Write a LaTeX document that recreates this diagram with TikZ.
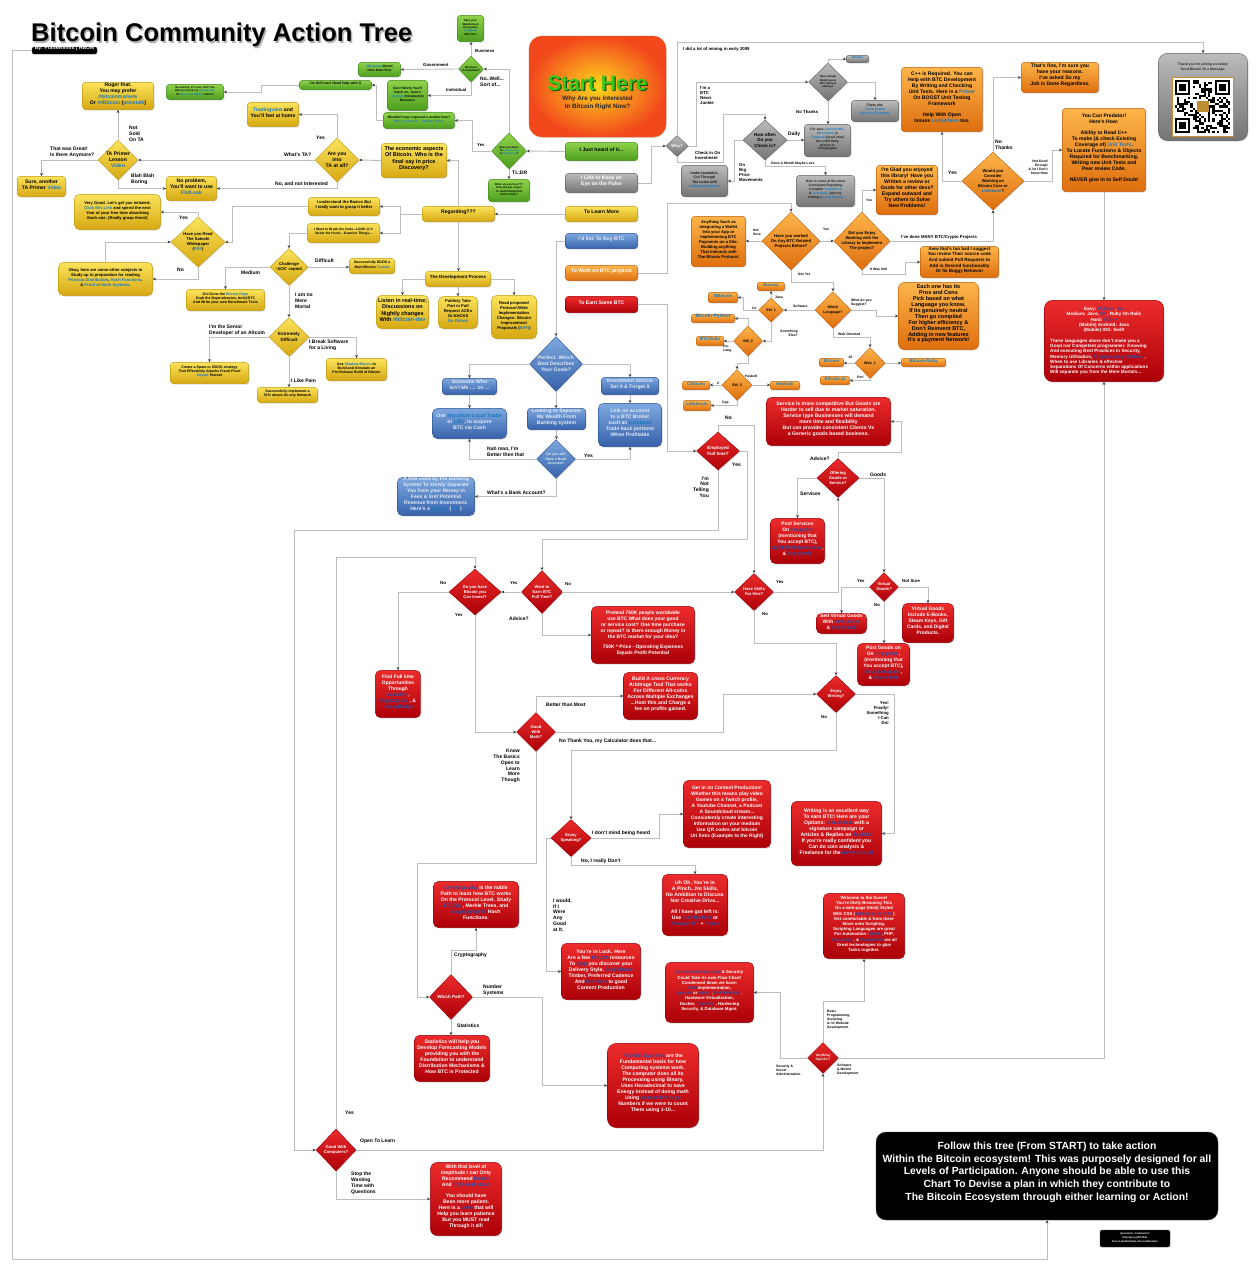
\documentclass[tikz,border=0pt]{standalone}
\usepackage{fontspec}
\setmainfont{Liberation Sans}
\usetikzlibrary{shapes.geometric,arrows.meta,fit,shadows}
\definecolor{ylT}{HTML}{FBE35A}\definecolor{ylB}{HTML}{D6A812}\definecolor{ylD}{HTML}{C29A10}
\definecolor{grT}{HTML}{8FD24A}\definecolor{grB}{HTML}{4E9E20}\definecolor{grD}{HTML}{3F861A}
\definecolor{gyT}{HTML}{BBBBBB}\definecolor{gyB}{HTML}{747474}\definecolor{gyD}{HTML}{5E5E5E}
\definecolor{orT}{HTML}{FDB54A}\definecolor{orB}{HTML}{DE6E0E}\definecolor{orD}{HTML}{C25E0A}
\definecolor{blT}{HTML}{7DA8DE}\definecolor{blB}{HTML}{3762AC}\definecolor{blD}{HTML}{2C5192}
\definecolor{rdT}{HTML}{EC2B2B}\definecolor{rdB}{HTML}{AC0008}\definecolor{rdD}{HTML}{960008}
\definecolor{lnk}{HTML}{1A78BE}\definecolor{lnkr}{HTML}{2B4FA8}
\definecolor{conn}{HTML}{BDBDBD}\definecolor{bltx}{HTML}{E4EAF4}
\definecolor{qrgold}{HTML}{BE8C32}\definecolor{qrfr}{HTML}{CD8C32}
\newcommand\lk[1]{\textcolor{lnk}{#1}}
\newcommand\lr[1]{\textcolor{lnkr}{#1}}
\newcommand\Bx[7]{\node[#2, fit={(#3,#4) (#5,#6)}] (#1) {#7};}
\newcommand\Dm[8]{\node[#2, minimum width=#5pt, minimum height=#6pt] (#1) at (#3,#4) {};\node[#7, align=center, inner sep=0pt] (#1t) at (#1.center) {#8};}
\newcommand\qrfinder[2]{\fill[white] ({#1-2.2},{#2-2.12}) rectangle ++(19.8,19.08);\fill[black] (#1,#2) rectangle ++(15.4,14.84);\fill[white] ({#1+2.2},{#2+2.12}) rectangle ++(11,10.6);\fill[black] ({#1+4.4},{#2+4.24}) rectangle ++(6.6,6.36);}
\pgfdeclarelayer{bg}
\pgfsetlayers{bg,main}
\begin{document}
\begin{tikzpicture}[x=1pt,y=-1pt,
 sh/.style={drop shadow={shadow xshift=0.9pt,shadow yshift=-0.9pt,opacity=0.28}},
 bx/.style={rounded corners=3pt, inner sep=0.6pt, align=center, line width=0.4pt, sh},
 yb/.style={bx, draw=ylD, top color=ylT, bottom color=ylB, text=black},
 gb/.style={bx, draw=grD, top color=grT, bottom color=grB, text=black},
 gyb/.style={bx, draw=gyD, top color=gyT, bottom color=gyB, text=black!90},
 orb/.style={bx, draw=orD, top color=orT, bottom color=orB, text=black},
 blb/.style={bx, draw=blD, top color=blT, bottom color=blB, text=bltx},
 rdb/.style={bx, rounded corners=5pt, draw=rdD, top color=rdT, bottom color=rdB, text=white},
 dm/.style={diamond, inner sep=0pt, line width=0.4pt, sh},
 yd/.style={dm, draw=ylD, top color=ylT, bottom color=ylB},
 gd/.style={dm, draw=grD, top color=grT, bottom color=grB},
 gyd/.style={dm, draw=gyD, top color=gyT, bottom color=gyB},
 ord/.style={dm, draw=orD, top color=orT, bottom color=orB},
 bld/.style={dm, draw=blD, top color=blT, bottom color=blB},
 rdd/.style={dm, draw=rdD, top color=rdT, bottom color=rdB},
 f2/.style={font=\bfseries\fontsize{2.7}{3.3}\selectfont},
 f3/.style={font=\bfseries\fontsize{3.3}{3.9}\selectfont},
 f35/.style={font=\bfseries\fontsize{3.6}{4.3}\selectfont},
 f4/.style={font=\bfseries\fontsize{4.1}{5}\selectfont},
 f43/.style={font=\bfseries\fontsize{4.3}{5.2}\selectfont},
 f45/.style={font=\bfseries\fontsize{4.5}{5.6}\selectfont},
 f49/.style={font=\bfseries\fontsize{4.9}{6}\selectfont},
 f5/.style={font=\bfseries\fontsize{5.1}{6}\selectfont},
 f55/.style={font=\bfseries\fontsize{5.5}{6.6}\selectfont},
 f55t/.style={font=\bfseries\fontsize{5.5}{5.9}\selectfont},
 al/.style={align=left},
 lb/.style={inner sep=0pt, align=left, anchor=west, font=\bfseries\fontsize{5}{5.8}\selectfont},
 lbm/.style={lb, font=\bfseries\fontsize{4.3}{5}\selectfont},
 lbs/.style={lb, font=\bfseries\fontsize{3.4}{4}\selectfont},
 re/.style={anchor=east, align=right},
 cn/.style={draw=conn, line width=0.9pt, -{Stealth[length=3.2pt,width=2.8pt,color=black!80]}},
 blk/.style={fill=black, draw=black!70, rounded corners=8pt, inner sep=0pt, align=center, text=white}
]
\useasboundingbox (0,0) rectangle (1259,1280);
\begin{pgfonlayer}{bg}
\fill[white] (0,0) rectangle (1259,1280);
\end{pgfonlayer}

% ---------- title ----------
\node[anchor=west, inner sep=0pt, font=\bfseries\fontsize{25.6}{30}\selectfont, text=black!30] (titlesh) at (32.4,36.4) {Bitcoin Community Action Tree};
\node[anchor=west, inner sep=0pt, font=\bfseries\fontsize{25.6}{30}\selectfont] (title) at (31,35) {Bitcoin Community Action Tree};
\node[blk, rounded corners=1.5pt, fit={(32,47) (97,54)}, font=\bfseries\fontsize{5}{6}\selectfont] (by) {By: Frankenmint | HBOM};

% ---------- top left yellow ----------
\Bx{roger}{yb,f5}{83}{83}{153}{109}{Roger that.\\You may prefer\\\lk{\#bitcoinmarkets}\\Or \lk{\#\#Bitcoin} (\lk{pricetalk})}
\Dm{tap}{yd}{118}{160}{40}{40}{f5}{TA Primer\\Lesson\\\lk{Video}}
\Bx{sure}{yb,f5}{18}{177}{65}{196}{Sure, another\\TA Primer \lk{Video}}
\Bx{noprob}{yb,f5}{167}{177}{216}{200}{No problem,\\You'll want to use\\\lk{FlatLeak}}
\Dm{areta}{yd}{337}{160}{44}{44}{f5}{Are you\\into\\TA at all?}
\Bx{tview}{yb,f5}{248}{103}{298}{126}{\lk{Tradingview} and\\You'll feel at home}
\Bx{econ}{yb,f55,al}{382}{144}{446}{177}{The economic aspects\\Of Bitcoin. Who is the\\final say in price\\Discovery?}

% ---------- green ----------
\Bx{wf}{gb,f2,al}{458}{16}{483}{41}{Have your\\Workforce \&\\Ecosystem\\\lk{Budgeted}\\With This}
\Dm{biz}{gd}{471}{69}{25}{26}{f2}{Business\\Or Individual?}
\Bx{wiki}{gb,f3}{359}{63}{400}{76}{\lk{Wikipedia} Would\\have been Fine}
\Bx{dontw}{gb,f3,al}{388}{81}{427}{110}{Don't Worry You'll\\Catch on.. here's\\\lk{Another} Introductory\\Resource}
\Bx{wouldnt}{gb,f3,al}{384}{113}{454}{128}{Wouldn't have expected a newbie here?\\\lk{What is Bitcoin -- Youtube Video}}
\Bx{still}{gb,f35}{300}{81}{371}{89}{I'm Still lost! Need help with X}
\Bx{noworr}{gb,f2,al}{167}{85}{223}{99}{No worries, it's cool, chill!  You\\Want to check out  \lk{\#altcoin-IRC}\\Or \lk{bitcoinCore/Slack} channel}
\Dm{hyb}{gd}{509}{151}{35}{36}{f2}{Have you been\\To \lk{bitcoin.com}\\\& \lk{bitcoin.org}?}
\Bx{five}{gb,f2,al}{489}{180}{529}{201}{What are you Five???\\How did you expect\\To read through this\\Action Chart?}

% ---------- start ----------
\node[fit={(529,36) (666,137)}, inner sep=0pt, rounded corners=13pt, inner color={rgb,255:red,255;green,214;blue,30}, outer color={rgb,255:red,242;green,72;blue,28}, draw={rgb,255:red,225;green,85;blue,30}, sh] (start) {};
\node[inner sep=0pt, font=\bfseries\fontsize{21}{24}\selectfont, text={rgb,255:red,25;green,80;blue,10}] (startsh) at (598.7,84.2) {Start Here};
\node[inner sep=0pt, font=\bfseries\fontsize{21}{24}\selectfont, text={rgb,255:red,58;green,200;blue,25}] (starttx) at (597.5,83) {Start Here};
\node[inner sep=0pt, align=center, font=\bfseries\fontsize{6.3}{8}\selectfont, text=black!85] (startsub) at (597.5,103) {Why Are you Interested\\In Bitcoin Right Now?};
\Bx{heard}{gb,f5}{566}{143}{637}{160}{I Just heard of it...}
\Bx{pulse}{gyb,f5,text=white}{566}{174}{637}{192}{I Like to Keep an\\Eye on the Pulse}
\Bx{learn}{yb,f5}{566}{207}{637}{221}{To Learn More}
\Bx{buy}{blb,f5}{566}{234}{637}{248}{I'd like To Buy BTC}
\Bx{work}{orb,f5,text=white}{566}{266}{637}{280}{To Work on BTC projects}
\Bx{earn}{rdb,rounded corners=3pt,f5}{566}{297}{637}{312}{To Earn Some BTC}
\Bx{regard}{yb,f5}{423}{207}{494}{221}{Regarding???}

% ---------- gray ----------
\Dm{why}{gyd}{677}{146}{22}{21}{f4,text=white}{Why?}
\Dm{brk}{gyd}{828}{82}{39}{38}{f2}{Take a Break\\Brush up on\\BTC Facts \&\\History?}
\Bx{hist}{gyb,rounded corners=1.5pt,f3}{847}{56}{868}{62}{\lk{History}}
\Bx{facts}{gyb,f35}{852}{101}{898}{121}{Facts via:\\\lk{Trivia Game}\\\lk{Bitcoin Glossary}}
\Dm{often}{gyd}{765}{140}{44}{40}{f45}{How often\\Do you\\Check in?}
\Bx{forsure}{gyb,f3}{805}{125}{850}{156}{For sure...\lk{bitcoin-IRC},\\\lk{Bitcointalk}, \&\\\lk{Telegram} (local chat)\\Are solid Daily\\places to\\Congregate}
\Bx{underst}{gyb,f35,al}{682}{166}{727}{196}{Understandable.\\Cut Through\\The noise with\\\lk{bitfinexwhalealert}}
\Bx{hereis}{gyb,f3,al}{797}{176}{854}{206}{Here is some of the most\\Consistent Reporting\\Consider \lk{Tradeblock}\\\& \lk{Coindesk}.  Also try\\Joining a \lk{Local Meetup}}

% ---------- orange top ----------
\Bx{cpp}{orb,f5}{902}{68}{982}{131}{C++ is Required. You can\\Help with BTC Development\\By Writing and Checking\\Unit Tests.  Here is a \lk{Primer}\\On BOOST Unit Testing\\Framework\\[5pt]Help With Open\\Issues \lk{Listed here} too.}
\Dm{would}{ord}{993}{181}{62}{58}{f4}{Would you\\Consider\\Working on\\Bitcoin Core or\\\lk{Libbitcoin}?}
\Bx{fine}{orb,f5}{1022}{63}{1098}{92}{That's fine, I'm sure you\\have your reasons.\\I've asked So my\\Job is Done Regardless.}
\Bx{pred}{orb,f5}{1063}{109}{1145}{191}{You Can Predator!\\Here's How:\\[5pt]Ability to Read C++\\To make (\& check Existing\\Coverage of) \lk{Unit Tests}.\\To Locate Functions \& Objects\\Required for Benchmarking,\\Writing new Unit Tests and\\Peer review Code.\\[5pt]NEVER give in to Self Doubt}
\node[gyb, rounded corners=9pt, fit={(1159,54) (1247,140)}] (qr) {};
\node[inner sep=0pt, align=center, font=\bfseries\fontsize{3.4}{4.4}\selectfont, text=black!85] (qrtx) at (1203,67) {Thank you for joining us today!\\Send Bitcoin Or a  Message:};
\filldraw[fill=white, draw=qrfr, line width=1pt] (1172,77) rectangle (1233,136);
\pgfmathsetseed{42}
\foreach \i in {0,...,24}{\foreach \j in {0,...,24}{\pgfmathtruncatemacro\qrv{rnd<0.48?1:0}\ifnum\qrv=1 \fill[black] ({1175+\i*2.2},{80+\j*2.12}) rectangle ++(2.2,2.12);\fi}}
\qrfinder{1175}{80}\qrfinder{1214.6}{80}\qrfinder{1175}{118.16}
\fill[qrgold] (1197,101) rectangle (1209,112);
\Dm{hw}{ord}{791}{241}{58}{58}{f4}{Have you worked\\On Any BTC Related\\Projects Before?}
\Bx{anyth}{orb,f4}{692}{217}{745}{266}{Anything Such as\\Integrating a Wallet\\Into your App or\\Implementing BTC\\Payments on a Site.\\Building anything\\That interacts with\\The Bitcoin Protocol.}
\Dm{enjoy}{ord}{862}{241}{56}{58}{f4}{Did you Enjoy\\Working with the\\Library to Implement\\The project?}
\Bx{glad}{orb,f5}{877}{166}{937}{214}{I'm Glad you enjoyed\\this library! Have you\\Written a review or\\Guide for other devs?\\Expand outward and\\Try others to Solve\\New Problems!}
\Bx{aww}{orb,f45}{921}{247}{998}{277}{Aww that's too bad I suggest\\You review Their source code\\And submit Pull Requests to\\Add in Desired functionality\\Or fix Buggy Behavior}

% ---------- languages ----------
\Dm{wl}{ord}{833}{310}{36}{37}{f35}{Which\\Language?}
\Dm{sw1}{ord}{771}{310}{25}{24}{f35}{SW\_1}
\Bx{bj}{orb,rounded corners=1.5pt,f4}{758}{283}{784}{290}{\lk{Bitcoinj}}
\Bx{nbit}{orb,rounded corners=1.5pt,f45}{709}{293}{737}{302}{\lk{NBitcoin}}
\Dm{sw2}{ord}{748}{341}{29}{30}{f35}{SW\_2}
\Bx{bpy}{orb,rounded corners=1.5pt,f49}{692}{315}{734}{322}{\lk{Bitcoin-Python}}
\Bx{btcs}{orb,rounded corners=1.5pt,f45}{697}{337}{723}{345}{\lk{BTCSuite}}
\Dm{sw3}{ord}{737}{385}{30}{31}{f35}{SW\_3}
\Bx{hask}{orb,rounded corners=1.5pt,f45}{771}{382}{799}{389}{\lk{Haskoin}}
\Bx{cbit}{orb,rounded corners=1.5pt,f45}{683}{382}{709}{389}{\lk{Cbitcoin}}
\Bx{libb}{orb,rounded corners=1.5pt,f45}{684}{401}{710}{410}{\lk{Libbitcoin}}
\Bx{each}{orb,rounded corners=6pt,f55t}{899}{283}{978}{349}{Each one has its\\Pros and Cons\\Pick based on what\\Language you know.\\If its genuinely neutral\\Then go compiled\\For higher efficiency \&\\Don't Reinvent BTC,\\Adding in new features\\It's a payment Network!}
\Dm{web1}{ord}{870}{363}{30}{31}{f35}{Web\_1}
\Bx{bcore}{orb,rounded corners=1.5pt,f45}{820}{359}{843}{366}{\lk{Bitcore}}
\Bx{bruby}{orb,rounded corners=1.5pt,f45}{902}{359}{945}{366}{\lk{Bitcoin-Ruby}}
\Bx{bpl}{orb,rounded corners=1.5pt,f45}{821}{377}{849}{384}{\lk{Bitcoin-pl}}

% ---------- red right ----------
\node[rdb, rounded corners=8pt, fit={(1045,301) (1163,381)}] (easy) {};
\node[inner sep=0pt, align=center, text=white, font=\bfseries\fontsize{4.6}{5.2}\selectfont] (easyA) at (1104,320) {Easy: \lr{Python} , \lr{Go}\\Medium: Java, \lr{C\#} , Ruby On Rails\\Hard: \lr{C/C++}\\(Mobile) Android: Java\\(Mobile) IOS: Swift};
\node[inner sep=0pt, align=left, anchor=west, text=white, font=\bfseries\fontsize{4.6}{5.2}\selectfont] (easyB) at (1050,357) {These languages alone don't make you a\\Good nor Competent programmer.  Knowing\\And executing Best Practices in Security,\\Memory Utilization, \lr{Programming Patterns} ,\\When to use Libraries \& effective\\Separations Of Concerns within applications\\Will separate you from the Mere Mortals...};
\Bx{serv}{rdb,f5}{767}{398}{890}{445}{Service is more competitive But Goods are\\Harder to sell due to market saturation.\\Service type Businesses will demand\\more time and flexibility\\But can provide consistent Clients Vs\\a Generic goods based business.}
\Dm{empl}{rdd}{718}{451}{43}{38}{f45,text=white}{Employed\\Full time?}
\Dm{offer}{rdd}{838}{478}{42}{39}{f4,text=white}{Offering\\Goods or\\Service?}
\Bx{posts}{rdb,f49,al}{771}{519}{824}{563}{Post Services\\On \lr{Craigslist}\\(mentioning that\\You accept BTC),\\\lr{cryptothebitcoin.com} ,\\\& \lr{Bitcointalk}}
\Dm{skills}{rdd}{754}{592}{39}{37}{f4,text=white}{Have Skills\\For Hire?}
\Dm{vgd}{rdd}{884}{587}{29}{29}{f4,text=white}{Virtual\\Goods?}
\Bx{sellv}{rdb,f49,al}{817}{614}{866}{633}{Sell Virtual Goods\\With \lr{Sell-bitBox}\\\& \lr{Bitcointalk}}
\Bx{vginc}{rdb,f49,al}{903}{604}{953}{642}{Virtual Goods\\Include E-Books,\\Steam Keys, Gift\\Cards, and Digital\\Products.}
\Bx{postg}{rdb,f49,al}{858}{644}{909}{685}{Post Goods on\\On \lr{Craigslist} ,\\(mentioning that\\You accept BTC),\\\lr{bitcoinshop.us} ,\\\& \lr{Bitcointalk}}
\Dm{ewrite}{rdd}{836}{694}{39}{37}{f4,text=white}{Enjoy\\Writing?}
\Bx{writing}{rdb,f5}{792}{802}{881}{865}{Writing is an excellent way\\To earn BTC! Here are your\\Options: \lr{Bitcointalk} with a\\signature campaign or\\Articles \& Replies on \lr{Topicbit}\\If you're really confident you\\Can do coin analysis \&\\Freelance for the \lr{News-Circuit}}

% ---------- red middle ----------
\Dm{dyh}{rdd}{475}{592}{52}{46}{f4,text=white}{Do you have\\Bitcoin you\\Can invest?}
\Dm{wte}{rdd}{542}{592}{41}{43}{f4,text=white}{Want to\\Earn BTC\\Full Time?}
\Bx{pret}{rdb,f49}{592}{607}{694}{663}{Pretend 750K people worldwide\\use BTC What does your good\\or service cost? One time purchase\\or repeat? Is there enough Money in\\the BTC market for your idea?\\[4pt]750K * Price - Operating Expenses\\Equals Profit Potential}
\Bx{findft}{rdb,f49,al}{376}{671}{420}{717}{Find Full time\\Opportunities\\Through\\\lr{Coinality} ,\\\lr{Cryptogrind} , \&\\\lr{HoneyBadge}}
\Dm{gwm}{rdd}{536}{732}{39}{39}{f4,text=white}{Good\\With\\Math?}
\Bx{build}{rdb,f5,al}{624}{673}{697}{719}{Build A cross Currency\\Arbitrage Tool That works\\For Different Alt-coins\\Across Multiple Exchanges\\...Host this and Charge a\\fee on profits gained.}
\Dm{espeak}{rdd}{571}{838}{40}{37}{f4,text=white}{Enjoy\\Speaking?}
\Bx{content}{rdb,f49,al}{684}{781}{770}{847}{Get in on Content Production!\\Whether this means play video\\Games on a Twitch profile,\\A Youtube Channel, a Podcast\\A Soundcloud stream...\\Consistently create interesting\\Information on your medium\\Use QR codes and bitcoin\\Uri links (Example to the Right)}
\Bx{uhoh}{rdb,f5,al}{663}{875}{727}{935}{Uh Oh, You're in\\A Pinch...No Skills,\\No Ambition to Discuss\\Nor Creative Drive...\\[5pt]All I have got left is:\\Use \lr{CoinBuilder} or\\\lr{Amazon MT} + \lr{Purse}}
\Bx{luck}{rdb,f5,al}{562}{944}{640}{999}{You're in Luck.  Here\\Are a few \lr{Bitcoin} resources\\To \lr{help} you discover your\\Delivery Style, \lr{Confidence}\\Timber, Preferred Cadence\\And \lr{Methods} to good\\Content Production}
\Dm{wpath}{rdd}{451}{997}{43}{45}{f45,text=white}{Which Path?}
\Bx{crypto}{rdb,f5,al}{434}{882}{518}{927}{\lr{Cryptography} is the noble\\Path to learn how BTC works\\On the Protocol Level.  Study\\\lr{ECDSA} , Merkle Trees, and\\\lr{Cryptographic} Hash\\Functions.}
\Bx{stats}{rdb,f5,al}{415}{1036}{489}{1081}{Statistics will help you\\Develop Forecasting Models\\providing you with the\\Foundation to understand\\Distribution Mechanisms \&\\How BTC is Protected}
\Bx{numsys}{rdb,rounded corners=9pt,f5,al}{608}{1044}{698}{1127}{\lr{Number Systems} are the\\Fundamental basis for how\\Computing systems work.\\The computer does all its\\Processing using Binary,\\Uses Hexadecimal to save\\Energy instead of doing math\\Using \lr{impossibly large}\\Numbers if we were to count\\Them using 1-10...}
\Dm{anyspec}{rdd}{823}{1058}{31}{31}{f3,text=white}{Anything\\Specific?}
\Bx{server}{rdb,f43,al}{666}{963}{753}{1022}{\lr{Server Administration} \& Security\\Could Take its own  Flow Chart!\\Condensed down we have:\\\lr{SSH} implementation,\\\lr{Apache} or \lr{Nginx} , \lr{PHP Hosting} ,\\Hardware Virtualization,\\Docker, \lr{Tigervnc} , Hardening\\Security, \& Database Mgmt.}
\Bx{welcome}{rdb,f43,al}{824}{894}{904}{958}{Welcome to the Scene!\\You're likely Browsing This\\On a web-page (html) Styled\\With CSS ( \lr{Get Down as CSS} )\\Get comfortable \& from there\\Move onto Scripting.\\Scripting Languages are great\\For Automation - \lr{Bash} , PHP,\\\lr{Javascript} , \& \lr{Powershell} are all\\Great technologies to glue\\Tasks together.}
\Dm{gwc}{rdd}{336}{1150}{40}{42}{f4,text=white}{Good With\\Computers?}
\Bx{inept}{rdb,rounded corners=7pt,f5,al}{431}{1163}{501}{1235}{With that level of\\Ineptitude I can Only\\Recommend \lr{Reddit}\\And \lr{Coinmarketcap}\\[5pt]You should have\\Been more patient.\\Here is a \lr{Joke} that will\\Help you learn patience\\But you MUST read\\Through it all!}
\node[blk, rounded corners=10pt, fit={(876,1132) (1218,1220)}, font=\bfseries\fontsize{10.4}{12.7}\selectfont] (blackbox) {Follow this tree (From START) to take action\\Within the Bitcoin ecosystem!  This was purposely designed for all\\Levels of Participation.  Anyone should be able to use this\\Chart To Devise a plan in which they contribute to\\The Bitcoin Ecosystem through either learning or Action!};
\node[blk, rounded corners=2pt, fit={(1100,1230) (1170,1247)}, font=\bfseries\fontsize{2.6}{3.6}\selectfont] (qbox) {Questions, Comments?\\http://goo.gl/8CtZde\\Free to Redistribute w/o modification};

% ---------- blue ----------
\Dm{perfect}{bld}{556}{364}{53}{55}{f5,text=bltx}{Perfect. Which\\Best Describes\\Your Goals?}
\Bx{someone}{blb,f5,al}{443}{379}{496}{394}{Someone Who\\Isn't Me .... on ...}
\Bx{myc}{blb,rounded corners=5pt,f5,al}{433}{409}{506}{438}{Use \lk{Mycelium Local Trader}\\or \lk{LBC},  to acquire\\BTC via Cash}
\Bx{looking}{blb,f5,al}{528}{409}{585}{429}{Looking to Separate\\My Wealth From\\Banking system}
\Dm{dys}{bld}{556}{459}{39}{39}{f35,text=bltx}{Do you still\\Have a Bank\\Account?}
\Bx{invest}{blb,f5,al}{602}{378}{658}{394}{Investment Vehicle\\Set it \& Forget it}
\Bx{linkacc}{blb,rounded corners=5pt,f5,al}{599}{404}{661}{446}{Link an account\\to a BTC Broker\\such as \lk{Coinbase}\\Trade back portions\\When Profitable}
\Bx{tool}{blb,rounded corners=5pt,f5,al}{398}{478}{474}{515}{A tool used by the Banking\\System To slowly Separate\\You from your Money in\\Fees \& lost Potential\\Revenue from Investment.\\Here's a \lk{(video)} (\lk{link})}

% ---------- yellow middle ----------
\Bx{verygood}{yb,rounded corners=5pt,f4,al}{75}{195}{160}{229}{Very Good.  Let's get you initiated.\\\lk{Click this Link} and spend the next\\Year of your free time absorbing\\Each one. (Really grasp them!)}
\Dm{hyr}{yd}{198}{242}{54}{50}{f4}{Have you Read\\The Satoshi\\Whitepaper\\(\lk{PDF})}
\Bx{okay}{yb,rounded corners=5pt,f4,al}{59}{263}{152}{295}{Okay, here are some other subjects to\\Study up in preparation for reading\\\lk{Poisson Distribution}, \lk{Hash Functions},\\\& \lk{Proof of Work Systems}.}
\Bx{iund}{yb,f4,al}{309}{198}{379}{215}{I understand the Basics But\\I really want to grasp it better}
\Bx{ibreak}{yb,f3,al}{308}{224}{379}{242}{I Want to Break the Code...LOOK @ It\\Under the Hood... Examine Things...}
\Dm{chal}{yd}{289}{267}{38}{37}{f4}{Challenge\\`ACK' cepted}
\Bx{ddos}{yb,f35,al}{350}{259}{394}{273}{Successfully DDOS a\\Main Bitcoin \lk{Testnet}}
\Bx{git}{yb,f35,al}{187}{290}{264}{310}{Git Clone the \lk{Bitcoin Repo}\\Grab the Dependencies, build BTC\\And Write your own Benchmark Tests}
\Dm{ext}{yd}{289}{337}{40}{39}{f45}{Extremely\\Difficult}
\Bx{create}{yb,f35,al}{171}{363}{248}{383}{Create a Spam or DDOS strategy\\That Effectively Attacks Fraud Proof\\\lk{Segwit} Testnet}
\Bx{shadow}{yb,f35,al}{327}{359}{386}{380}{Use \lk{Shadow-Bitcoin} to\\Build and Simulate an\\Pre-Release Build of Bitcoin}
\Bx{fifty}{yb,f35,al}{258}{388}{317}{402}{Successfully Implement a\\51\% attack On any Network}
\Bx{dev}{yb,f45}{426}{272}{490}{286}{The Development Process}
\Bx{listen}{yb,rounded corners=5pt,f55,al}{377}{296}{428}{328}{Listen in real-time;\\Discussions on\\Nightly changes\\With \lk{\#bitcoin-dev}}
\Bx{publicly}{yb,rounded corners=5pt,f4,al}{439}{297}{477}{328}{Publicly Take\\Part in Pull\\Request ACKs\\Or NACKS\\\lk{On Github}}
\Bx{readp}{yb,rounded corners=5pt,f4,al}{492}{296}{536}{338}{Read proposed\\Protocol-Wide\\Implementation\\Changes: Bitcoin\\Improvement\\Proposals (\lk{BIPS})}

% ---------- labels ----------
\node[lb] (L1) at (129,134) {Not\\Sold\\On TA};
\node[lb] (L2) at (50,152) {That was Great!\\Is there Anymore?};
\node[lb] (L3) at (131,179.5) {Blah Blah\\Boring};
\node[lb] (L4) at (284,155) {What's TA?};
\node[lb] (L5) at (316,138) {Yes};
\node[lb] (L6) at (275,184) {No, and not Interested};
\node[lbm] (L7) at (475,51) {Business};
\node[lbm] (L8) at (423,65) {Government};
\node[lbm] (L9) at (446,90) {Individual};
\node[lb] (L10) at (480,82) {No..Well...\\Sort of...};
\node[lbm] (L11) at (477,145) {Yes};
\node[lb] (L12) at (512,173) {TL;DR};
\node[lbm] (L13) at (683,49) {I did a lot of mining in early 2009};
\node[lbm] (L14) at (700,95.5) {I'm a\\BTC\\News\\Junkie};
\node[lbm] (L15) at (796,112) {No Thanks};
\node[lbm] (L16) at (695,155.5) {Check in On\\Investment};
\node[lb] (L17) at (788,134) {Daily};
\node[lbm] (L18) at (739,172.5) {On\\Big\\Price\\Movements};
\node[lbs] (L19) at (771,164) {Once A Month Maybe Less};
\node[lb] (L20) at (948,173) {Yes};
\node[lb] (L21) at (995,145) {No\\Thanks};
\node[lbs,re] (L22) at (1048,167) {Not Good\\Enough\\\& /or I Don't\\know How};
\node[lbs] (L23) at (753,232) {Not\\Sure};
\node[lbs] (L24) at (823,229) {Yes};
\node[lbs] (L25) at (866,200) {Yes};
\node[lbm] (L26) at (901,237) {I've done MANY BTC/Crypto Projects};
\node[lbs] (L27) at (870,269) {It Was Hell};
\node[lbs] (L28) at (798,274) {Not Yet};
\node[lbs] (L29) at (775,297) {Java};
\node[lbs] (L30) at (752,308) {C\#};
\node[lbs] (L31) at (793,306) {Software};
\node[lbs,re] (L32) at (798,333) {Something\\Else?};
\node[lbs] (L33) at (723,349) {Go-\\Lang};
\node[lbs] (L34) at (745,376) {Haskell};
\node[lbs] (L35) at (717,383) {C};
\node[lbs] (L36) at (722,403) {Cpp};
\node[lbs] (L37) at (851,303) {What do you\\Suggest?};
\node[lbs] (L38) at (838,334) {Web Oriented};
\node[lbs] (L39) at (848,357) {JS};
\node[lbs] (L40) at (857,377) {Perl};
\node[lb] (L41) at (725,418) {No};
\node[lb] (L42) at (732,465) {Yes};
\node[lb,re] (L43) at (709,487) {I'm\\Not\\Telling\\You};
\node[lb] (L44) at (810,459) {Advice?};
\node[lb] (L45) at (870,475) {Goods};
\node[lb] (L46) at (800,494) {Services};
\node[lbm] (L47) at (776,582) {Yes};
\node[lbm] (L48) at (762,614) {No};
\node[lbm] (L49) at (857,581) {Yes};
\node[lbm] (L50) at (902,581) {Not Sure};
\node[lbm] (L51) at (874,605) {No};
\node[lbm] (L52) at (821,717) {No};
\node[lbm,re] (L53) at (889,713) {Yes!\\Finally!\\Something\\I Can\\Do!};
\node[lbm] (L54) at (440,583) {No};
\node[lbm] (L55) at (510,583) {Yes};
\node[lbm] (L56) at (565,584) {No};
\node[lbm] (L57) at (455,615) {Yes};
\node[lb] (L58) at (509,619) {Advice?};
\node[lb] (L59) at (546,705) {Better than Most};
\node[lb] (L60) at (559,741) {No Thank You, my  Calculator does that...};
\node[lb,re] (L61) at (520,766) {Know\\The Basics\\Open to\\Learn\\More\\Though};
\node[lb] (L62) at (592,833) {I don't mind being heard};
\node[lb] (L63) at (581,861) {No, I really Don't};
\node[lb] (L64) at (553,915) {I would,\\If I\\Were\\Any\\Good\\at It.};
\node[lb] (L65) at (454,955) {Cryptography};
\node[lb] (L66) at (483,990) {Number\\Systems};
\node[lb] (L67) at (457,1026) {Statistics};
\node[lbs] (L68) at (776,1070) {Security \&\\Server\\Administration.};
\node[lbs] (L69) at (827,1019.5) {Basic\\Programming,\\Scripting,\\\& /or Website\\Development};
\node[lbs] (L70) at (837,1070) {Software\\\& Mobile\\Development};
\node[lb] (L71) at (345,1113) {Yes};
\node[lb] (L72) at (360,1141) {Open To Learn};
\node[lb] (L73) at (351,1183) {Stop the\\Wasting\\Time with\\Questions};
\node[lb] (L74) at (179,218) {Yes};
\node[lb] (L75) at (177,270) {No};
\node[lb] (L76) at (315,261) {Difficult};
\node[lb] (L77) at (241,273) {Medium};
\node[lb] (L78) at (295,301) {I am no\\Mere\\Mortal};
\node[lb] (L79) at (209,330) {I'm the Senior\\Developer of an Altcoin};
\node[lb] (L80) at (309,345) {I Break Software\\for a Living};
\node[lb] (L81) at (291,381) {I Like Pain};
\node[lb] (L82) at (487,452) {Nah man, I'm\\Better then that};
\node[lb] (L83) at (584,456) {Yes};
\node[lb] (L84) at (487,493) {What's a Bank Account?};

% ---------- connectors ----------
\begin{pgfonlayer}{bg}
\draw[cn] (by.west) -| (12,1259) -| (blackbox.south);
\draw[cn] (tap.north) -- (tap.north |- roger.south);
\draw[cn] (tap.west) -| (sure.north);
\draw[cn] (tap.south) |- (noprob.west);
\draw[cn] (areta.west) -- (tap.east);
\draw[cn] (areta.north) |- (tview.east);
\draw[cn] (areta.south) |- (noprob.east);
\draw[cn] (econ.west) -- (areta.east);
\draw[cn] (regard.north) |- (econ.east);
\draw[cn] (biz.north) -- (biz.north |- wf.south);
\draw[cn] (biz.west) -- (wiki.east);
\draw[cn] (biz.south) |- (dontw.east);
\draw[cn] (hyb.north) |- (biz.east);
\draw[cn] (hyb.west) -- ++(-19,0) |- (wouldnt.east);
\draw[cn] (wouldnt.west) -- ++(-7,0) |- (still.east);
\draw[cn] (still.west) -- ++(-38,0) |- (noworr.east);
\draw[cn] (hyb.south) -- (hyb.south |- five.north);
\draw[cn] (heard.west) -- (hyb.east);
\draw[cn] (pulse.east) -- ++(14,0) |- (why.west);
\draw[cn] (learn.west) -- (regard.east);
\draw[cn] (why.north) -- ++(0,-93) -| (qr.north);
\draw[cn] (why.east) -- ++(8,0) |- (brk.west);
\draw[cn] (brk.north) |- (hist.west);
\draw[cn] (brk.east) -| (facts.north);
\draw[cn] (brk.south) -- (brk.south |- forsure.north);
\draw[cn] (why.south) |- (723,162) |- (765,114) -- (often.north);
\draw[cn] (often.east) -- (often.east -| forsure.west);
\draw[cn] (often.west) -- ++(-8,0) |- (underst.east);
\draw[cn] (often.south) -- ++(0,6) -| (hereis.north);
\draw[cn] (would.west) -| (cpp.south);
\draw[cn] (would.north) |- (fine.west);
\draw[cn] (would.east) -- ++(28,0) |- (pred.west);
\draw[cn] (pred.south) -- (pred.south |- easy.north);
\draw[cn] (work.east) -- ++(30,0) |- (791,203) -- (hw.north);
\draw[cn] (hw.west) -- (hw.west -| anyth.east);
\draw[cn] (hw.east) -- (enjoy.west);
\draw[cn] (enjoy.north) |- (glad.west);
\draw[cn] (enjoy.east) -| (would.south);
\draw[cn] (enjoy.south) |- (905,274) |- (aww.west);
\draw[cn] (hw.south) -- ++(0,12) -| (wl.north);
\draw[cn] (wl.west) -- (sw1.east);
\draw[cn] (sw1.north) -- (sw1.north |- bj.south);
\draw[cn] (sw1.west) -- ++(-15,0) |- (nbit.east);
\draw[cn] (sw1.south) |- (sw2.east);
\draw[cn] (sw2.north) |- (bpy.east);
\draw[cn] (sw2.west) -- (sw2.west -| btcs.east);
\draw[cn] (sw2.south) -- ++(0,7) -| (sw3.north);
\draw[cn] (sw3.east) -- (sw3.east -| hask.west);
\draw[cn] (sw3.west) -- (sw3.west -| cbit.east);
\draw[cn] (sw3.south) |- (libb.east);
\draw[cn] (wl.east) -- ++(25,0) |- (each.west);
\draw[cn] (wl.south) -- ++(0,9) -| (web1.north);
\draw[cn] (web1.west) -- (web1.west -| bcore.east);
\draw[cn] (web1.east) -- (web1.east -| bruby.west);
\draw[cn] (web1.south) |- (bpl.east);
\draw[cn] (earn.east) -- ++(30,0) |- (empl.west);
\draw[cn] (empl.north) -- ++(0,-6) -| (skills.north);
\draw[cn] (empl.east) -- ++(8,0) |- (542,539) -- (wte.north);
\draw[cn] (empl.south) |- (294,530) |- (gwc.west);
\draw[cn] (gwc.north) -- (336,557) -| (dyh.north);
\draw[cn] (wte.west) -- (dyh.east);
\draw[cn] (wte.east) -- (skills.west);
\draw[cn] (wte.south) |- (pret.west);
\draw[cn] (dyh.west) -| (findft.north);
\draw[cn] (dyh.south) |- (gwm.west);
\draw[cn] (gwm.north) |- (build.west);
\draw[cn] (gwm.east) -- (723,732) |- (ewrite.west);
\draw[cn] (gwm.south) |- (417,863) |- (wpath.west);
\draw[cn] (ewrite.south) |- (571,750) -- (espeak.north);
\draw[cn] (ewrite.east) -- ++(39,0) |- (writing.east);
\draw[cn] (skills.south) |- (836,643) -- (ewrite.north);
\draw[cn] (skills.east) -| (offer.south);
\draw[cn] (offer.north) |- (901,452) |- (serv.east);
\draw[cn] (offer.west) -| (posts.north);
\draw[cn] (offer.east) -| (vgd.north);
\draw[cn] (vgd.west) -| (sellv.north);
\draw[cn] (vgd.east) -| (vginc.north);
\draw[cn] (vgd.south) -- (vgd.south |- postg.north);
\draw[cn] (espeak.east) -- ++(68,0) |- (content.west);
\draw[cn] (espeak.south) -- ++(0,9) -| (uhoh.north);
\draw[cn] (espeak.west) -- ++(-4,0) |- (luck.west);
\draw[cn] (wpath.north) -- ++(0,-24) -| (crypto.south);
\draw[cn] (wpath.east) -- (542,997) |- (numsys.west);
\draw[cn] (wpath.south) -- (wpath.south |- stats.north);
\draw[cn] (gwc.east) -| (anyspec.south);
\draw[cn] (anyspec.west) -- ++(-27,0) |- (server.east);
\draw[cn] (anyspec.north) -- ++(0,-41) -| (welcome.south);
\draw[cn] (anyspec.east) -| (easy.south);
\draw[cn] (gwc.south) |- (inept.west);
\draw[cn] (hyr.north) |- (verygood.east);
\draw[cn] (hyr.south) |- (okay.east);
\draw[cn] (okay.north) |- (hyr.west);
\draw[cn] (iund.west) -- ++(-76,0) |- (hyr.east);
\draw[cn] (regard.west) -- ++(-22,0) |- (iund.east);
\draw[cn] (regard.west) -- ++(-22,0) |- (ibreak.east);
\draw[cn] (ibreak.west) -| (chal.north);
\draw[cn] (chal.east) -- (chal.east -| ddos.west);
\draw[cn] (chal.west) -| (git.north);
\draw[cn] (chal.south) -- (ext.north);
\draw[cn] (ext.west) -| (create.north);
\draw[cn] (ext.east) -| (shadow.north);
\draw[cn] (ext.south) -- (ext.south |- fifty.north);
\draw[cn] (regard.south) -- (regard.south |- dev.north);
\draw[cn] (dev.west) -| (listen.north);
\draw[cn] (dev.south) -- (dev.south |- publicly.north);
\draw[cn] (dev.east) -| (readp.north);
\draw[cn] (buy.west) -| (perfect.north);
\draw[cn] (perfect.west) -| (someone.north);
\draw[cn] (someone.south) -- (someone.south |- myc.north);
\draw[cn] (perfect.south) -- (perfect.south |- looking.north);
\draw[cn] (looking.south) -- (looking.south |- dys.north);
\draw[cn] (perfect.east) -| (invest.north);
\draw[cn] (invest.south) -- (invest.south |- linkacc.north);
\draw[cn] (dys.east) -| (linkacc.south);
\draw[cn] (dys.west) -| (myc.south);
\draw[cn] (dys.south) |- (tool.east);
\end{pgfonlayer}
\end{tikzpicture}
\end{document}
